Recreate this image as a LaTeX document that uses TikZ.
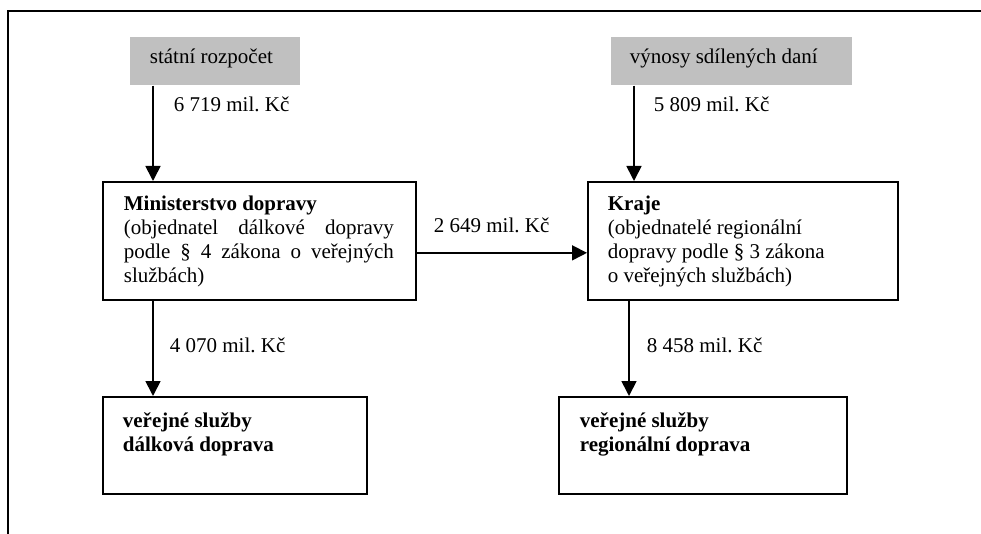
\documentclass[tikz,border=0pt]{standalone}
\usepackage{fontspec}
\setmainfont{Liberation Serif}
\usetikzlibrary{arrows.meta}
\definecolor{srcgray}{RGB}{192,192,192}
\frenchspacing
\begin{document}
\begin{tikzpicture}[x=1pt,y=-1pt, line width=1.7pt,
  src/.style={fill=srcgray, draw=none, inner sep=0pt, anchor=north west},
  box/.style={draw, inner sep=0pt, anchor=north west},
  txt/.style={inner sep=0pt, anchor=base west, font=\fontsize{21}{24}\selectfont, align=left},
  arr/.style={-{Triangle[length=15pt,width=15pt]}}]
\useasboundingbox (0,0) rectangle (981,534);
% frame
\coordinate (f1) at (8,534);
\coordinate (f2) at (8,11);
\coordinate (f3) at (981,11);
\draw (f1) -- (f2) -- (f3);
% boxes
\node[src, minimum width=170pt, minimum height=48pt] (sr) at (129,36) {};
\node[src, minimum width=241pt, minimum height=48pt] (vd) at (610,36) {};
\node[box, minimum width=313pt, minimum height=118pt] (md) at (102,181) {};
\node[box, minimum width=310pt, minimum height=118pt] (kr) at (587,181) {};
\node[box, minimum width=264pt, minimum height=97pt] (vl) at (102,396) {};
\node[box, minimum width=288pt, minimum height=97pt] (vr) at (558,396) {};
% texts (base anchor = baseline of last line)
\node[txt] (srt) at (149,64) {státní rozpočet};
\node[txt] (vdt) at (629,64) {výnosy sdílených daní};
\node[txt] (mdt) at (123,283) {\textbf{Ministerstvo dopravy}\\\makebox[270pt][s]{(objednatel dálkové dopravy}\\\makebox[270pt][s]{podle § 4 zákona o veřejných}\\službách)};
\node[txt] (krt) at (607,283) {\textbf{Kraje}\\(objednatelé regionální\\dopravy podle § 3 zákona\\o veřejných službách)};
\node[txt] (vlt) at (122,451) {\textbf{veřejné služby}\\\textbf{dálková doprava}};
\node[txt] (vrt) at (579,451) {\textbf{veřejné služby}\\\textbf{regionální doprava}};
% arrows
\draw[arr] ([xshift=24pt]sr.south west) -- ([xshift=24pt]sr.south west |- md.north);
\draw[arr] ([xshift=24pt]vd.south west) -- ([xshift=24pt]vd.south west |- kr.north);
\draw[arr] ([yshift=-12pt]md.east) -- ([yshift=-12pt]md.east -| kr.west);
\draw[arr] ([xshift=51pt]md.south west) -- ([xshift=51pt]md.south west |- vl.north);
\draw[arr] ([xshift=42pt]kr.south west) -- ([xshift=42pt]kr.south west |- vr.north);
% labels
\node[txt] (l1) at (173,112) {6 719 mil. Kč};
\node[txt] (l2) at (653,112) {5 809 mil. Kč};
\node[txt] (l3) at (433,233) {2 649 mil. Kč};
\node[txt] (l4) at (169,352) {4 070 mil. Kč};
\node[txt] (l5) at (646,352) {8 458 mil. Kč};
\end{tikzpicture}
\end{document}
